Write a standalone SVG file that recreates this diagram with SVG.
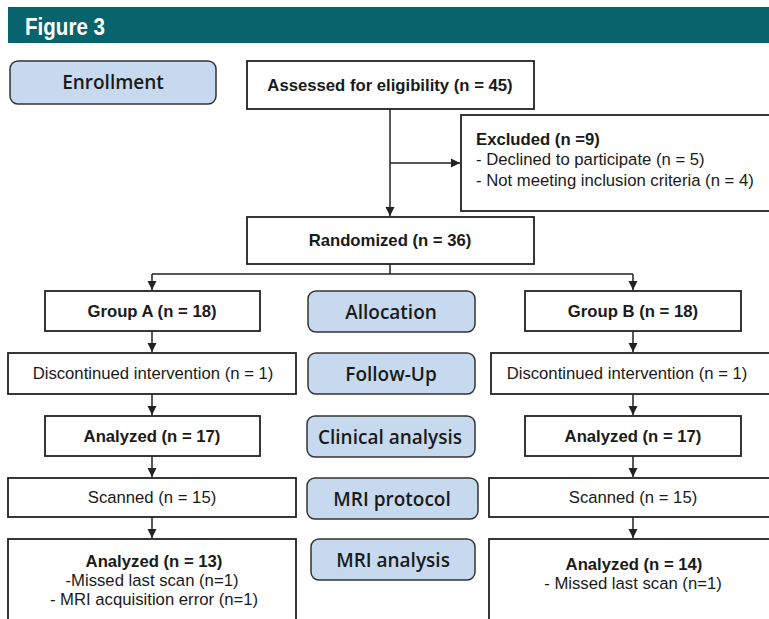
<svg xmlns="http://www.w3.org/2000/svg" width="769" height="619" viewBox="0 0 769 619">
<style>
.box{fill:#fff;stroke:#222;stroke-width:1.8}
.lbl{fill:#c7d9ee;stroke:#333;stroke-width:1.5}
.t{font-family:"Liberation Sans",Arial,sans-serif;font-size:16.7px;fill:#1a1a1a;text-anchor:middle}
.b{font-weight:bold}
.l{text-anchor:start}
.lt{font-family:"Open Sans","Noto Sans",sans-serif;font-weight:600;font-size:19px;fill:#1a1a1a;text-anchor:middle}
.c{stroke:#222;stroke-width:1.5;fill:none}
</style>
<defs>
<marker id="ah" viewBox="0 0 10 10" refX="10" refY="5" markerWidth="9" markerHeight="10" markerUnits="userSpaceOnUse" orient="auto">
<path d="M0,0 L10,5 L0,10 Z" fill="#222"/>
</marker>
</defs>
<rect width="769" height="619" fill="#fff"/>
<g id="header">
<rect x="8" y="7" width="761" height="36" fill="#07646d"/>
<text x="25" y="35" font-family="Liberation Sans,Arial,sans-serif" font-weight="bold" font-size="24" fill="#fff" textLength="80" lengthAdjust="spacingAndGlyphs">Figure 3</text>
</g>
<g id="connectors">
<line class="c" x1="390" y1="109" x2="390" y2="216" marker-end="url(#ah)"/>
<line class="c" x1="390" y1="163" x2="460" y2="163" marker-end="url(#ah)"/>
<polyline class="c" points="390,264 390,274"/>
<line class="c" x1="152" y1="274" x2="633" y2="274"/>
<line class="c" x1="152" y1="274" x2="152" y2="290" marker-end="url(#ah)"/>
<line class="c" x1="633" y1="274" x2="633" y2="290" marker-end="url(#ah)"/>
<line class="c" x1="152" y1="331" x2="152" y2="352" marker-end="url(#ah)"/>
<line class="c" x1="152" y1="394" x2="152" y2="415" marker-end="url(#ah)"/>
<line class="c" x1="152" y1="456" x2="152" y2="477" marker-end="url(#ah)"/>
<line class="c" x1="152" y1="517" x2="152" y2="538" marker-end="url(#ah)"/>
<line class="c" x1="633" y1="331" x2="633" y2="352" marker-end="url(#ah)"/>
<line class="c" x1="633" y1="394" x2="633" y2="415" marker-end="url(#ah)"/>
<line class="c" x1="633" y1="456" x2="633" y2="477" marker-end="url(#ah)"/>
<line class="c" x1="633" y1="517" x2="633" y2="538" marker-end="url(#ah)"/>
</g>
<g id="enrollment"><rect class="lbl" x="10" y="61" width="206" height="43" rx="8"/><text class="lt" x="113" y="89">Enrollment</text></g>
<g id="allocation"><rect class="lbl" x="308" y="291" width="167" height="41" rx="8"/><text class="lt" x="391" y="319">Allocation</text></g>
<g id="followup"><rect class="lbl" x="308" y="353" width="167" height="41" rx="8"/><text class="lt" x="391" y="381">Follow-Up</text></g>
<g id="clinical"><rect class="lbl" x="307" y="416" width="168" height="41" rx="8"/><text class="lt" x="390" y="444">Clinical analysis</text></g>
<g id="mriprotocol"><rect class="lbl" x="307" y="478" width="171" height="41" rx="8"/><text class="lt" x="392" y="506">MRI protocol</text></g>
<g id="mrianalysis"><rect class="lbl" x="311" y="539" width="164" height="41" rx="8"/><text class="lt" x="393" y="567">MRI analysis</text></g>
<g id="assessed"><rect class="box" x="247" y="61" width="287" height="48"/><text class="t b" x="390" y="91">Assessed for eligibility (n = 45)</text></g>
<g id="excluded"><rect class="box" x="461" y="115" width="320" height="96"/>
<text class="t b l" x="476" y="145">Excluded (n =9)</text>
<text class="t l" x="476" y="165">- Declined to participate (n = 5)</text>
<text class="t l" x="476" y="186">- Not meeting inclusion criteria (n = 4)</text></g>
<g id="randomized"><rect class="box" x="247" y="217" width="287" height="47"/><text class="t b" x="390" y="246">Randomized (n = 36)</text></g>
<g id="groupA"><rect class="box" x="45" y="291" width="215" height="40"/><text class="t b" x="152" y="317">Group A (n = 18)</text></g>
<g id="groupB"><rect class="box" x="525" y="291" width="216" height="40"/><text class="t b" x="633" y="317">Group B (n = 18)</text></g>
<g id="discA"><rect class="box" x="8" y="353" width="288" height="41"/><text class="t" x="153" y="379">Discontinued intervention (n = 1)</text></g>
<g id="discB"><rect class="box" x="491" y="353" width="290" height="41"/><text class="t" x="627" y="379">Discontinued intervention (n = 1)</text></g>
<g id="analyzedA17"><rect class="box" x="45" y="416" width="215" height="40"/><text class="t b" x="152" y="442">Analyzed (n = 17)</text></g>
<g id="analyzedB17"><rect class="box" x="525" y="416" width="216" height="40"/><text class="t b" x="633" y="442">Analyzed (n = 17)</text></g>
<g id="scannedA"><rect class="box" x="8" y="478" width="288" height="39"/><text class="t" x="152" y="503">Scanned (n = 15)</text></g>
<g id="scannedB"><rect class="box" x="489" y="478" width="292" height="39"/><text class="t" x="633" y="503">Scanned (n = 15)</text></g>
<g id="analyzedA13"><rect class="box" x="8" y="539" width="288" height="90"/>
<text class="t b" x="154" y="567">Analyzed (n = 13)</text>
<text class="t" x="152" y="586">-Missed last scan (n=1)</text>
<text class="t" x="154" y="605">- MRI acquisition error (n=1)</text></g>
<g id="analyzedB14"><rect class="box" x="489" y="539" width="292" height="90"/>
<text class="t b" x="634" y="570">Analyzed (n = 14)</text>
<text class="t" x="633" y="589">- Missed last scan (n=1)</text></g>
</svg>
